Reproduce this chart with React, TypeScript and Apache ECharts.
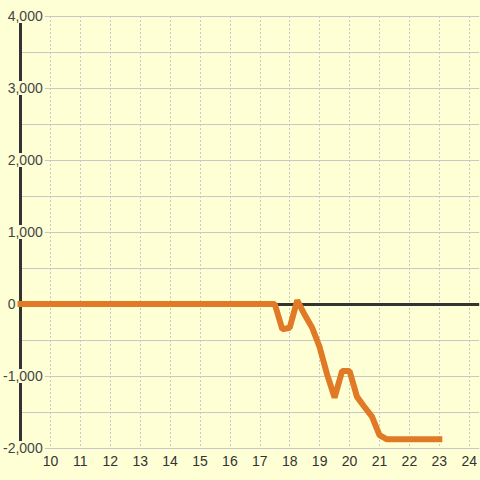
import React, { useEffect, useRef } from "react";
import * as echarts from "echarts";

const hours: number[] = [9, 17.5, 17.75, 18, 18.25, 18.5, 18.75, 19, 19.25, 19.5, 19.75, 20, 20.25, 20.5, 20.75, 21, 21.25, 23];
const values: number[] = [0, 0, -350, -330, 50, -150, -330, -600, -980, -1300, -930, -930, -1290, -1430, -1565, -1820, -1880, -1880];
const yTickLabels: number[] = [-2000, -1000, 0, 1000, 2000, 3000, 4000];

const BG = "#ffffd6";
const FONT = "Liberation Sans, Arial, sans-serif";

export default function App() {
  const ref = useRef<HTMLDivElement>(null);
  useEffect(() => {
    document.body.style.margin = "0";
    const chart = echarts.init(ref.current!, null, { renderer: "svg" });
    const fmt = (v: number) => {
      if (!yTickLabels.includes(v)) return "";
      const s = v.toLocaleString("en-US");
      return v < 0 ? `{n|${s}}` : `{p|${s}}`;
    };
    chart.setOption({
      animation: false,
      backgroundColor: BG,
      grid: { left: 20, right: 0, top: 16, bottom: 32, containLabel: false },
      xAxis: {
        type: "value",
        min: 9,
        max: 24.333,
        interval: 1,
        position: "bottom",
        axisLine: { show: false, onZero: false },
        axisTick: { show: false },
        axisLabel: {
          color: "#333",
          fontSize: 14,
          fontFamily: FONT,
          margin: 6,
          showMinLabel: false,
          showMaxLabel: false,
        },
        splitLine: {
          show: true,
          showMinLine: false,
          showMaxLine: false,
          lineStyle: { color: "#c8c8c8", type: [2, 2], width: 1 },
        },
      },
      yAxis: {
        type: "value",
        min: -2000,
        max: 4000,
        interval: 500,
        axisLine: { show: true, onZero: false, lineStyle: { color: "#333", width: 3 } },
        axisTick: { show: false },
        axisLabel: {
          formatter: fmt,
          align: "left",
          margin: 17.5,
          backgroundColor: BG,
          padding: [0, 2, 0, 0],
          rich: {
            n: { color: "#444", fontSize: 14, fontFamily: FONT },
            p: { color: "#444", fontSize: 14, fontFamily: FONT, padding: [0, 0, 0, 4.7] },
          },
        },
        splitLine: { show: true, lineStyle: { color: "#c8c8c8", width: 1 } },
      },
      series: [
        {
          type: "line",
          data: hours.map((h, i) => [h, values[i]]),
          showSymbol: false,
          clip: false,
          lineStyle: { color: "#e07a26", width: 6, cap: "square" },
          z: 2,
          markLine: {
            z: 1,
            silent: true,
            symbol: "none",
            label: { show: false },
            lineStyle: { color: "#333", width: 3, type: "solid" },
            data: [{ yAxis: 0 }],
          },
        },
      ],
    });
    return () => chart.dispose();
  }, []);
  return <div ref={ref} style={{ width: 480, height: 480 }} />;
}
